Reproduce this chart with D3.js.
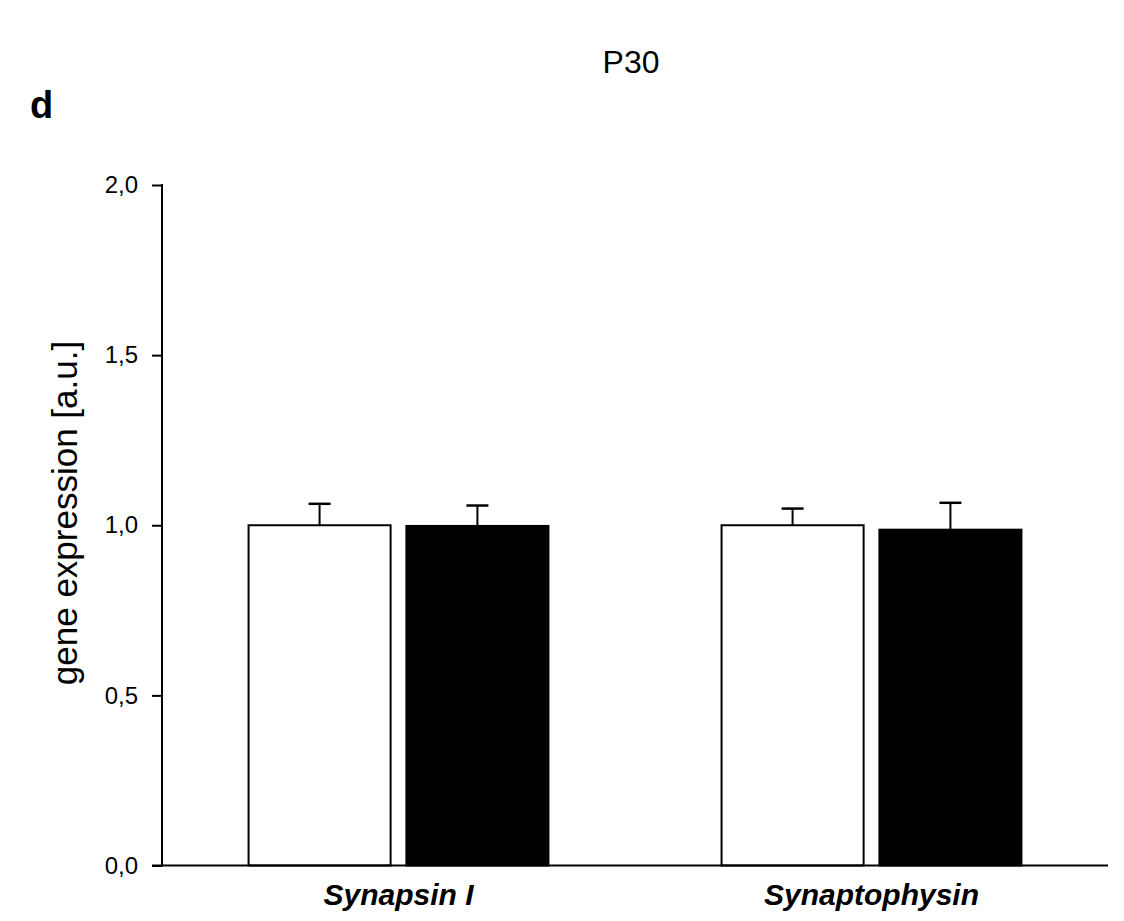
<!DOCTYPE html>
<html>
<head>
<meta charset="utf-8">
<script src="https://cdn.jsdelivr.net/npm/d3@7"></script>
<style>
  body { margin: 0; background: #fff; }
  text { font-family: "Liberation Sans", Arial, sans-serif; fill: #000; }
</style>
</head>
<body>
<svg id="chart"></svg>
<script>
const genes = ["Synapsin I", "Synaptophysin"];
const groups = ["control", "treated"];
const groupColors = ["#ffffff", "#000000"];
const means = [
  [1.0, 0.998],
  [1.0, 0.987]
];
const errors = [
  [0.063, 0.06],
  [0.049, 0.079]
];
const yTicks = [0, 0.5, 1.0, 1.5, 2.0];

const getConfig = () => {
  const dimensions = {
    width: 1124,
    height: 921,
    margin: { top: 185, bottom: 55, left: 162, right: 16 }
  };
  const svg = d3
    .select("#chart")
    .attr("width", dimensions.width)
    .attr("height", dimensions.height);
  return { container: svg, dimensions };
};

const getScales = config => {
  const { dimensions } = config;
  const { margin } = dimensions;
  const xScale = d3
    .scaleBand()
    .domain(genes)
    .range([margin.left, dimensions.width - margin.right])
    .paddingInner(0.366)
    .paddingOuter(0.183);
  const innerScale = d3
    .scaleBand()
    .domain(groups)
    .range([0, xScale.bandwidth()])
    .paddingInner(0.1);
  const yScale = d3
    .scaleLinear()
    .domain([0, 2])
    .range([dimensions.height - margin.bottom - 0.5, margin.top]);
  return { xScale, innerScale, yScale };
};

const drawBars = (config, scales) => {
  const { container } = config;
  const { xScale, innerScale, yScale } = scales;
  const rows = [];
  genes.forEach((g, i) => {
    groups.forEach((grp, j) => {
      rows.push({ gene: g, group: grp, j, value: means[i][j], err: errors[i][j] });
    });
  });

  const barX = d => xScale(d.gene) + innerScale(d.group);
  const barCx = d => barX(d) + innerScale.bandwidth() / 2;

  // error bars (upper only), drawn under bars
  const eb = container.append("g");
  eb.selectAll("line.stem")
    .data(rows)
    .join("line")
    .attr("x1", barCx)
    .attr("x2", barCx)
    .attr("y1", d => yScale(d.value))
    .attr("y2", d => yScale(d.value + d.err))
    .attr("stroke", "#000")
    .attr("stroke-width", 2);
  eb.selectAll("line.cap")
    .data(rows)
    .join("line")
    .attr("x1", d => barCx(d) - 11)
    .attr("x2", d => barCx(d) + 11)
    .attr("y1", d => yScale(d.value + d.err))
    .attr("y2", d => yScale(d.value + d.err))
    .attr("stroke", "#000")
    .attr("stroke-width", 2.5);

  container
    .append("g")
    .selectAll("rect")
    .data(rows)
    .join("rect")
    .attr("x", barX)
    .attr("width", innerScale.bandwidth())
    .attr("y", d => yScale(d.value))
    .attr("height", d => yScale(0) - yScale(d.value))
    .attr("fill", d => groupColors[d.j])
    .attr("stroke", "#000")
    .attr("stroke-width", 2);
};

const drawAxes = (config, scales) => {
  const { container, dimensions } = config;
  const { xScale, yScale } = scales;
  const { margin } = dimensions;

  const yAxis = d3
    .axisLeft(yScale)
    .tickValues(yTicks)
    .tickSize(10)
    .tickPadding(14)
    .tickFormat(d => d3.format(".1f")(d).replace(".", ","));

  const yG = container
    .append("g")
    .attr("transform", `translate(${margin.left},0)`)
    .call(yAxis);
  yG.select(".domain").remove();
  yG.append("line")
    .attr("x1", 0)
    .attr("x2", 0)
    .attr("y1", yScale(2) - 1)
    .attr("y2", yScale(0) + 1)
    .attr("stroke", "#000")
    .attr("stroke-width", 2);
  yG.selectAll(".tick line").attr("stroke-width", 2);
  yG.selectAll(".tick text")
    .attr("font-size", 24)
    .attr("font-family", "Liberation Sans, Arial, sans-serif")
    .attr("fill", "#000");

  const xAxis = d3.axisBottom(xScale).tickSize(0).tickPadding(18);
  const xG = container
    .append("g")
    .attr("transform", `translate(0,${yScale(0)})`)
    .call(xAxis);
  xG.select(".domain").remove();
  xG.append("line")
    .attr("x1", margin.left - 10)
    .attr("x2", dimensions.width - margin.right)
    .attr("y1", 0)
    .attr("y2", 0)
    .attr("stroke", "#000")
    .attr("stroke-width", 2);
  xG.selectAll(".tick text")
    .attr("font-size", 30)
    .attr("font-weight", "bold")
    .attr("font-style", "italic")
    .attr("font-family", "Liberation Sans, Arial, sans-serif")
    .attr("fill", "#000");
};

const addLabels = (config, scales) => {
  const { container } = config;
  const { yScale } = scales;

  container
    .append("text")
    .attr("text-anchor", "middle")
    .attr("transform", `translate(77, 513) rotate(-90)`)
    .attr("font-size", 35)
    .text("gene expression [a.u.]");

  container
    .append("text")
    .attr("text-anchor", "middle")
    .attr("x", 631)
    .attr("y", 73)
    .attr("font-size", 32)
    .text("P30");

  container
    .append("text")
    .attr("x", 30)
    .attr("y", 118)
    .attr("font-size", 38)
    .attr("font-weight", "bold")
    .text("d");
};

const render = () => {
  const config = getConfig();
  const scales = getScales(config);
  drawBars(config, scales);
  drawAxes(config, scales);
  addLabels(config, scales);
};

render();
</script>
</body>
</html>
